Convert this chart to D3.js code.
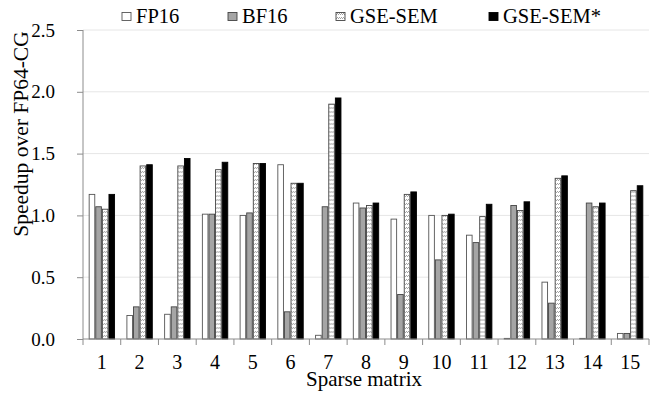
<!DOCTYPE html>
<html>
<head>
<meta charset="utf-8">
<script src="https://cdn.jsdelivr.net/npm/d3@7"></script>
<style>
  body { margin: 0; background: #fff; }
  svg text { font-family: "Liberation Serif", "Times New Roman", serif; fill: #000; }
</style>
</head>
<body>
<div id="chart"></div>
<script>
// sparse matrix ids
const matrices = ["1", "2", "3", "4", "5", "6", "7", "8", "9", "10", "11", "12", "13", "14", "15"];
const seriesNames = ["FP16", "BF16", "GSE-SEM", "GSE-SEM*"];

// speedup over FP64-CG
const fp16   = [1.17, 0.19, 0.20, 1.01, 1.00, 1.41, 0.03, 1.10, 0.97, 1.00, 0.84, 0.005, 0.46, 0.005, 0.045];
const bf16   = [1.07, 0.26, 0.26, 1.01, 1.02, 0.22, 1.07, 1.06, 0.36, 0.64, 0.78, 1.08, 0.29, 1.10, 0.045];
const gseSem = [1.05, 1.40, 1.40, 1.37, 1.42, 1.26, 1.90, 1.08, 1.17, 1.00, 0.99, 1.04, 1.30, 1.07, 1.20];
const gseSemStar = [1.17, 1.41, 1.46, 1.43, 1.42, 1.26, 1.95, 1.10, 1.19, 1.01, 1.09, 1.11, 1.32, 1.10, 1.24];

const yTicks = [0, 0.5, 1.0, 1.5, 2.0, 2.5];

const W = 667, H = 396;
const margin = { top: 30, right: 18, bottom: 57, left: 83 };
const width = W - margin.left - margin.right;
const height = H - margin.top - margin.bottom;

const svg = d3.select("#chart")
    .append("svg")
    .attr("width", W)
    .attr("height", H);

// hatch pattern for GSE-SEM
const defs = svg.append("defs");
const pat = defs.append("pattern")
    .attr("id", "hatch")
    .attr("patternUnits", "userSpaceOnUse")
    .attr("width", 4)
    .attr("height", 4);
pat.append("rect").attr("width", 4).attr("height", 4).attr("fill", "#fff");
pat.append("path")
    .attr("d", "M0,3 L2,1 M2,3 L4,1")
    .attr("stroke", "#8a8a8a")
    .attr("stroke-width", 0.8);

const fills = ["#ffffff", "#a5a5a5", "url(#hatch)", "#000000"];
const strokes = ["#555", "#444", "#444", "#000"];

const g = svg.append("g")
    .attr("transform", "translate(" + margin.left + "," + margin.top + ")");

const x = d3.scaleBand().domain(matrices).range([0, width]).paddingInner(0).paddingOuter(0);
const y = d3.scaleLinear().domain([0, 2.5]).range([height, 0]);

// gridlines
g.selectAll("line.grid")
    .data(yTicks.filter(d => d > 0))
    .join("line")
    .attr("class", "grid")
    .attr("x1", 0).attr("x2", width)
    .attr("y1", d => y(d)).attr("y2", d => y(d))
    .attr("stroke", "#e6e6e6")
    .attr("stroke-width", 1);

// bars
const data = matrices.map((m, i) => ({ m, vals: [fp16[i], bf16[i], gseSem[i], gseSemStar[i]] }));
const barW = 5.6, barStep = 6.6;
const groupW = barStep * 3 + barW;

const groups = g.selectAll("g.grp")
    .data(data)
    .join("g")
    .attr("class", "grp")
    .attr("transform", d => "translate(" + (x(d.m) + (x.bandwidth() - groupW) / 2) + ",0)");

groups.selectAll("rect")
    .data(d => d.vals.map((v, k) => ({ v, k })))
    .join("rect")
    .attr("x", d => d.k * barStep)
    .attr("y", d => y(d.v))
    .attr("width", barW)
    .attr("height", d => y(0) - y(d.v))
    .attr("fill", d => fills[d.k])
    .attr("stroke", d => strokes[d.k])
    .attr("stroke-width", 0.9);

// y axis
const yAxis = g.append("g")
    .attr("class", "yAxis")
    .call(d3.axisLeft(y).tickValues(yTicks).tickFormat(d3.format(".1f")).tickSize(6).tickPadding(22));
yAxis.select(".domain").attr("stroke", "#8c8c8c").attr("d", "M0," + y(2.5) + "V" + y(0));
yAxis.selectAll(".tick line").attr("stroke", "#8c8c8c");
yAxis.selectAll(".tick text").attr("font-size", 19).attr("font-family", "Liberation Serif");

// x axis: ticks at category boundaries
const xAxis = g.append("g")
    .attr("transform", "translate(0," + height + ")");
xAxis.append("line")
    .attr("x1", 0).attr("x2", width)
    .attr("stroke", "#8c8c8c");
xAxis.selectAll("line.bnd")
    .data(matrices.concat(["end"]))
    .join("line")
    .attr("class", "bnd")
    .attr("x1", (d, i) => i * x.bandwidth())
    .attr("x2", (d, i) => i * x.bandwidth())
    .attr("y1", 0).attr("y2", 6)
    .attr("stroke", "#8c8c8c");
xAxis.selectAll("text.lbl")
    .data(matrices)
    .join("text")
    .attr("class", "lbl")
    .attr("x", d => x(d) + x.bandwidth() / 2)
    .attr("y", 30)
    .attr("text-anchor", "middle")
    .attr("font-size", 20)
    .text(d => d);

// axis titles
svg.append("text")
    .attr("x", 364)
    .attr("y", 386)
    .attr("text-anchor", "middle")
    .attr("font-size", 21)
    .text("Sparse matrix");

svg.append("text")
    .attr("transform", "translate(28,134) rotate(-90)")
    .attr("text-anchor", "middle")
    .attr("font-size", 21.5)
    .text("Speedup over FP64-CG");

// legend
const legendX = [122, 228, 336, 489];
const leg = svg.append("g").attr("class", "legend");
seriesNames.forEach((name, k) => {
    leg.append("rect")
        .attr("x", legendX[k])
        .attr("y", 12.5)
        .attr("width", 9)
        .attr("height", 8)
        .attr("fill", fills[k])
        .attr("stroke", strokes[k])
        .attr("stroke-width", 0.9);
    leg.append("text")
        .attr("x", legendX[k] + 14)
        .attr("y", 23)
        .attr("font-size", 20.5)
        .text(name);
});
</script>
</body>
</html>
